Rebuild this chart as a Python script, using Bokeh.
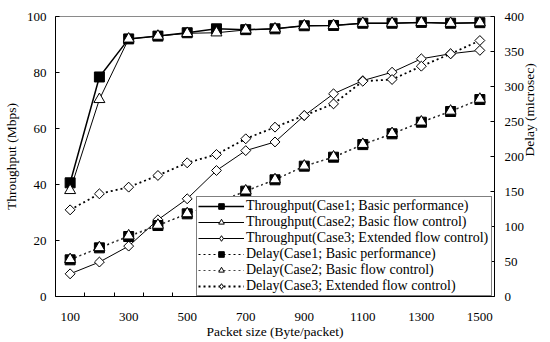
import math
from bokeh.plotting import figure
from bokeh.models import LinearAxis, Range1d, FixedTicker, Legend, LegendItem, ColumnDataSource
from bokeh.embed import file_html
from bokeh.resources import INLINE

packet_size = [100, 200, 300, 400, 500, 600, 700, 800, 900, 1000, 1100, 1200, 1300, 1400, 1500]

thr_case1 = [40.6, 78.4, 92.0, 93.0, 94.2, 95.6, 95.3, 95.6, 96.7, 96.8, 97.6, 97.6, 97.9, 97.6, 97.8]
thr_case2 = [37.9, 70.4, 92.0, 93.0, 94.0, 94.2, 95.2, 95.6, 96.7, 96.8, 97.6, 97.6, 97.9, 97.6, 97.8]
thr_case3 = [8.1, 12.3, 18.0, 27.4, 34.9, 45.0, 52.1, 55.2, 64.6, 72.4, 77.1, 80.1, 84.9, 86.7, 87.9]

delay_case1 = [52.4, 69.5, 85.7, 101.4, 118.1, 133.8, 150.5, 166.7, 186.2, 199.0, 217.0, 232.4, 249.0, 264.3, 281.4]
delay_case2 = [53.0, 70.0, 86.8, 102.0, 118.5, 134.2, 151.0, 167.0, 186.5, 199.5, 217.5, 233.0, 249.5, 265.0, 282.0]
delay_case3 = [123.8, 146.7, 156.2, 172.9, 191.0, 202.9, 225.3, 241.9, 258.6, 275.2, 307.5, 310.0, 329.0, 346.7, 365.7]

x_label_ticks = [100, 300, 500, 700, 900, 1100, 1300, 1500]
x_minor_ticks = [150, 250, 350, 450, 550, 650, 750, 850, 950, 1050, 1150, 1250, 1350, 1450]
left_ticks = [0, 20, 40, 60, 80, 100]
right_ticks = [0, 50, 100, 150, 200, 250, 300, 350, 400]

legend_labels = [
    "Throughput(Case1; Basic performance)",
    "Throughput(Case2; Basic flow control)",
    "Throughput(Case3; Extended flow control)",
    "Delay(Case1; Basic performance)",
    "Delay(Case2; Basic flow control)",
    "Delay(Case3; Extended flow control)",
]

FONT = "Liberation Serif"

p = figure(frame_width=439, frame_height=280, x_range=Range1d(50, 1550), y_range=Range1d(0, 100),
           output_backend="svg", toolbar_location=None,
           min_border_left=53, min_border_right=10, min_border_top=16, min_border_bottom=10)
p.extra_y_ranges = {"delay": Range1d(0, 400)}
p.xgrid.visible = False
p.ygrid.visible = False
p.outline_line_color = "#8a8a8a"
p.outline_line_width = 1
p.background_fill_color = "white"
p.border_fill_color = "white"

raxis = LinearAxis(y_range_name="delay")
p.add_layout(raxis, "right")

for ax in [p.xaxis[0], p.yaxis[0], raxis]:
    ax.axis_line_color = "black"
    ax.axis_line_width = 1
    ax.major_label_text_font = FONT
    ax.major_label_text_font_size = "13px"
    ax.major_label_text_color = "black"
    ax.axis_label_text_font = FONT
    ax.axis_label_text_font_size = "13.5px"
    ax.axis_label_text_font_style = "normal"
    ax.axis_label_text_color = "black"
    ax.major_tick_in = 4
    ax.major_tick_out = 0
    ax.major_tick_line_color = "black"
    ax.minor_tick_line_color = None

xa = p.xaxis[0]
xa.ticker = FixedTicker(ticks=x_label_ticks, minor_ticks=x_minor_ticks)
xa.major_tick_line_color = None
xa.minor_tick_line_color = "black"
xa.minor_tick_in = 4
xa.minor_tick_out = 0
xa.major_label_standoff = 16
xa.axis_label = "Packet size (Byte/packet)"
xa.axis_label_standoff = 0

ya = p.yaxis[0]
ya.ticker = FixedTicker(ticks=left_ticks)
ya.major_label_standoff = 9
ya.axis_label = "Throughput (Mbps)"
ya.axis_label_standoff = 5

raxis.ticker = FixedTicker(ticks=right_ticks)
raxis.major_label_standoff = 10
raxis.axis_label = "Delay (microsec)"
raxis.axis_label_standoff = 2
raxis.axis_label_orientation = math.pi / 2

angle = [math.pi / 4] * len(packet_size)
src_thr3 = ColumnDataSource(dict(x=packet_size, y=thr_case3, a=angle))
src_del3 = ColumnDataSource(dict(x=packet_size, y=delay_case3, a=angle))

l1 = p.line(packet_size, thr_case1, line_color="black", line_width=1.5)
l2 = p.line(packet_size, thr_case2, line_color="black", line_width=1)
l3 = p.line(packet_size, thr_case3, line_color="black", line_width=1)
d1 = p.line(packet_size, delay_case1, y_range_name="delay", line_color="black", line_width=1.2, line_dash="2 3")
d2 = p.line(packet_size, delay_case2, y_range_name="delay", line_color="#444444", line_width=1, line_dash="2 3")
d3 = p.line(packet_size, delay_case3, y_range_name="delay", line_color="black", line_width=1.8, line_dash="2 3")

m1 = p.scatter(packet_size, thr_case1, marker="square", size=10, fill_color="black", line_color="black")
m2 = p.scatter(packet_size, thr_case2, marker="triangle", size=11, fill_color="white", line_color="black", line_width=1)
# narrow diamonds (used for the legend glyph), covered by the wider rotated squares drawn on top
lg3 = p.scatter("x", "y", source=src_thr3, marker="diamond", size=9, fill_color="white", line_color="black", line_width=1)
m3 = p.scatter("x", "y", source=src_thr3, marker="square", angle="a", size=7, fill_color="white", line_color="black", line_width=1)
dm1 = p.scatter(packet_size, delay_case1, y_range_name="delay", marker="square", size=10, fill_color="black", line_color="black")
dm2 = p.scatter(packet_size, delay_case2, y_range_name="delay", marker="triangle", size=11, fill_color="white", line_color="black", line_width=1)
lg6 = p.scatter("x", "y", source=src_del3, y_range_name="delay", marker="diamond", size=9, fill_color="white", line_color="black", line_width=1)
dm3 = p.scatter("x", "y", source=src_del3, y_range_name="delay", marker="square", angle="a", size=7, fill_color="white", line_color="black", line_width=1)

items = [
    LegendItem(label=legend_labels[0], renderers=[l1, m1]),
    LegendItem(label=legend_labels[1], renderers=[l2, m2]),
    LegendItem(label=legend_labels[2], renderers=[l3, lg3]),
    LegendItem(label=legend_labels[3], renderers=[d1, dm1]),
    LegendItem(label=legend_labels[4], renderers=[d2, dm2]),
    LegendItem(label=legend_labels[5], renderers=[d3, lg6]),
]
legend = Legend(items=items, location=(141, 0), margin=0, padding=1, spacing=0,
                glyph_width=46, glyph_height=14, label_height=14, label_width=244,
                label_standoff=2, label_text_font=FONT, label_text_font_size="14px",
                label_text_line_height=1.0,
                label_text_color="black", border_line_color="black", border_line_width=1,
                background_fill_color="white", background_fill_alpha=1.0)
p.add_layout(legend, "center")

open("out.html", "w").write(file_html(p, INLINE))
